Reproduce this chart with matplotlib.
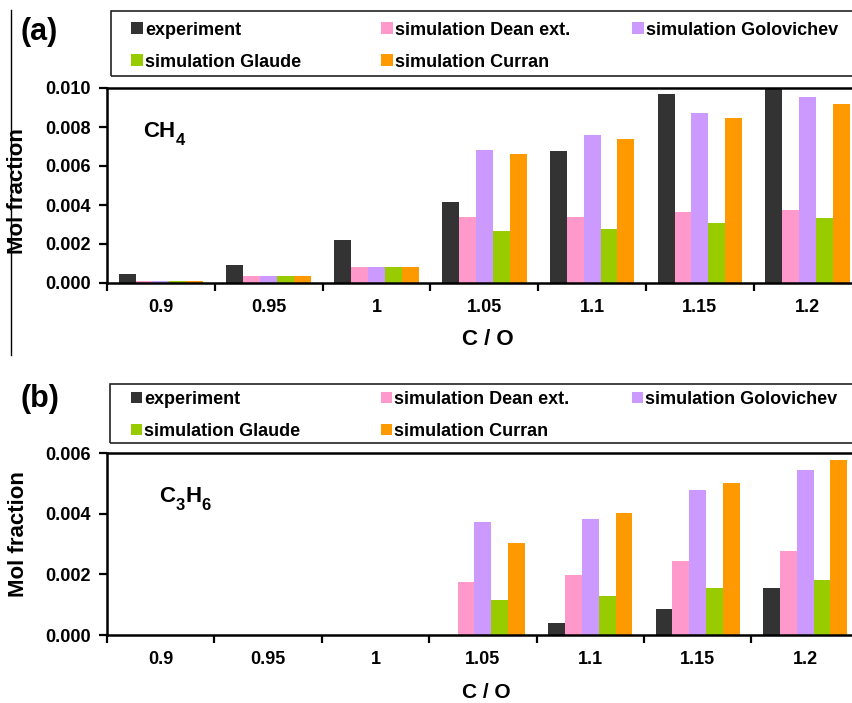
import numpy as np
import matplotlib
matplotlib.use("Agg")
import matplotlib.pyplot as plt
from matplotlib.patches import Rectangle
from matplotlib.lines import Line2D
from matplotlib.ticker import FixedLocator, FuncFormatter

plt.rcParams["font.family"] = ["Liberation Sans", "DejaVu Sans"]

# C/O ratios on the x axis
co_labels = ["0.9", "0.95", "1", "1.05", "1.1", "1.15", "1.2"]

series_names = ["experiment", "simulation Dean ext.", "simulation Golovichev",
                "simulation Glaude", "simulation Curran"]
series_colors = ["#333333", "#FF99CC", "#CC99FF", "#99CC00", "#FF9900"]

# CH4 mole fractions
ch4_experiment = [0.00045, 0.00090, 0.00223, 0.00417, 0.00677, 0.00968, 0.01000]
ch4_dean = [0.00010, 0.00035, 0.00080, 0.00338, 0.00338, 0.00366, 0.00373]
ch4_golovichev = [0.00010, 0.00035, 0.00080, 0.00684, 0.00759, 0.00872, 0.00954]
ch4_glaude = [0.00010, 0.00035, 0.00080, 0.00265, 0.00279, 0.00308, 0.00332]
ch4_curran = [0.00010, 0.00035, 0.00080, 0.00663, 0.00737, 0.00845, 0.00916]

# C3H6 mole fractions
c3h6_experiment = [0.0, 0.0, 0.0, 0.0, 0.00038, 0.00085, 0.00155]
c3h6_dean = [0.0, 0.0, 0.0, 0.00175, 0.00199, 0.00245, 0.00278]
c3h6_golovichev = [0.0, 0.0, 0.0, 0.00372, 0.00382, 0.00478, 0.00544]
c3h6_glaude = [0.0, 0.0, 0.0, 0.00115, 0.00128, 0.00155, 0.00180]
c3h6_curran = [0.0, 0.0, 0.0, 0.00302, 0.00401, 0.00500, 0.00577]

ch4_ticks = [0.0, 0.002, 0.004, 0.006, 0.008, 0.010]
c3h6_ticks = [0.0, 0.002, 0.004, 0.006]

W, H = 852, 703
fig = plt.figure(figsize=(W / 100, H / 100), dpi=100)


def fx(px):
    return px / W


def fy(py):
    return 1 - py / H


def add_axes_px(left, top, right, bottom):
    return fig.add_axes([fx(left), fy(bottom), fx(right) - fx(left), fy(top) - fy(bottom)])


MAIN_SIZE, SUB_SIZE, SUB_DROP = 16, 12, 5.5
DESCENT = 0.21  # descent below the baseline, as a share of the font size


def chem_formula(ax, parts, x_px, y_px):
    """Draw a formula from (text, is_subscript) parts, each piece chained after the last."""
    prev = None
    prev_sub = False
    for text, sub in parts:
        size = SUB_SIZE if sub else MAIN_SIZE
        if prev is None:
            prev = ax.annotate(text, xy=(fx(x_px), fy(y_px)), xycoords="figure fraction",
                               fontsize=size, fontweight="bold", ha="left",
                               va="baseline", annotation_clip=False)
        else:
            prev_size = SUB_SIZE if prev_sub else MAIN_SIZE
            # the anchor is the bottom of the previous box: back up to its baseline
            dy = DESCENT * prev_size
            if sub and not prev_sub:
                dy -= SUB_DROP
            elif prev_sub and not sub:
                dy += SUB_DROP
            prev = ax.annotate(text, xy=(1, 0), xycoords=prev,
                               xytext=(0.3, dy), textcoords="offset points",
                               fontsize=size, fontweight="bold", ha="left",
                               va="baseline", annotation_clip=False)
        prev_sub = sub


def draw_panel(ax, data, ticks, ymax, ylabel_y):
    n = len(co_labels)
    x = np.arange(n)
    width = 0.157
    for i, (vals, col) in enumerate(zip(data, series_colors)):
        ax.bar(x + (i - 2) * width, vals, width=width, color=col,
               edgecolor="none", label=series_names[i], zorder=2)
    ax.set_xlim(-0.5, n - 0.5)
    ax.set_ylim(0, ymax)
    for s in ax.spines.values():
        s.set_linewidth(1.8)
        s.set_color("black")
    ax.yaxis.set_major_locator(FixedLocator(ticks))
    ax.yaxis.set_major_formatter(FuncFormatter(lambda v, p: f"{v:.3f}"))
    ax.xaxis.set_major_locator(FixedLocator(np.arange(n + 1) - 0.5))
    ax.xaxis.set_major_formatter(FuncFormatter(lambda v, p: ""))
    ax.xaxis.set_minor_locator(FixedLocator(x))
    ax.xaxis.set_minor_formatter(FuncFormatter(lambda v, p: co_labels[int(round(v))]))
    ax.tick_params(axis="x", which="major", direction="out", length=5.5, width=1.6)
    ax.tick_params(axis="x", which="minor", length=0, pad=11.5,
                   labelsize=13)
    ax.tick_params(axis="y", direction="out", length=5.5, width=1.6, pad=6,
                   labelsize=13)
    for lab in ax.get_xticklabels(minor=True) + ax.get_yticklabels():
        lab.set_fontweight("bold")
    ax.set_ylabel("Mol fraction", fontsize=16, fontweight="bold")
    ax.yaxis.label.set_va("center")
    ax.yaxis.set_label_coords(-0.118, ylabel_y)


def draw_key(left, top, bottom, rows_baseline, marker_size):
    fig.patches.append(Rectangle((fx(left), fy(bottom)), fx(W + 40) - fx(left),
                                 fy(top) - fy(bottom), transform=fig.transFigure,
                                 fill=False, edgecolor="#222222", linewidth=1.2))
    col_x = [131, 381, 632]
    slots = [(0, 0), (0, 1), (0, 2), (1, 0), (1, 1)]
    for name, col, (r, c) in zip(series_names, series_colors, slots):
        base = rows_baseline[r]
        mx = col_x[c]
        fig.patches.append(Rectangle((fx(mx), fy(base - 1)), fx(marker_size), marker_size / H,
                                     transform=fig.transFigure, facecolor=col,
                                     edgecolor="none"))
        fig.text(fx(mx + marker_size + 2), fy(base), name, fontsize=13,
                 fontweight="bold", ha="left", va="baseline")


ax_a = add_axes_px(107, 88, 107 + 7 * 107.8, 283)
draw_panel(ax_a, [ch4_experiment, ch4_dean, ch4_golovichev, ch4_glaude, ch4_curran],
           ch4_ticks, 0.010, 0.472)
ax_a.set_xlabel("C / O", fontsize=16, fontweight="bold")
ax_a.xaxis.label.set_va("center")
ax_a.xaxis.set_label_coords(0.505, -0.292)
chem_formula(ax_a, [("CH", False), ("4", True)], 143, 137)

ax_b = add_axes_px(107, 453, 107 + 7 * 107.4, 635)
draw_panel(ax_b, [c3h6_experiment, c3h6_dean, c3h6_golovichev, c3h6_glaude, c3h6_curran],
           c3h6_ticks, 0.006, 0.555)
ax_b.set_xlabel("C / O", fontsize=15, fontweight="bold")
ax_b.xaxis.label.set_va("baseline")
ax_b.xaxis.set_label_coords(0.505, (635 - 698) / 182)
chem_formula(ax_b, [("C", False), ("3", True), ("H", False), ("6", True)], 159, 502)

draw_key(111, 11, 76, [35, 67], 12)
draw_key(110, 384, 443, [404, 436], 11)

fig.text(fx(21), fy(40), "(a)", fontsize=22, fontweight="bold", ha="left", va="baseline")
fig.text(fx(21), fy(407), "(b)", fontsize=22, fontweight="bold", ha="left", va="baseline")

# thin frame line on the left of panel (a)
fig.add_artist(Line2D([fx(11), fx(11)], [fy(10), fy(355)], transform=fig.transFigure,
                      color="black", linewidth=1.0))

fig.savefig("out.png", dpi=100)
